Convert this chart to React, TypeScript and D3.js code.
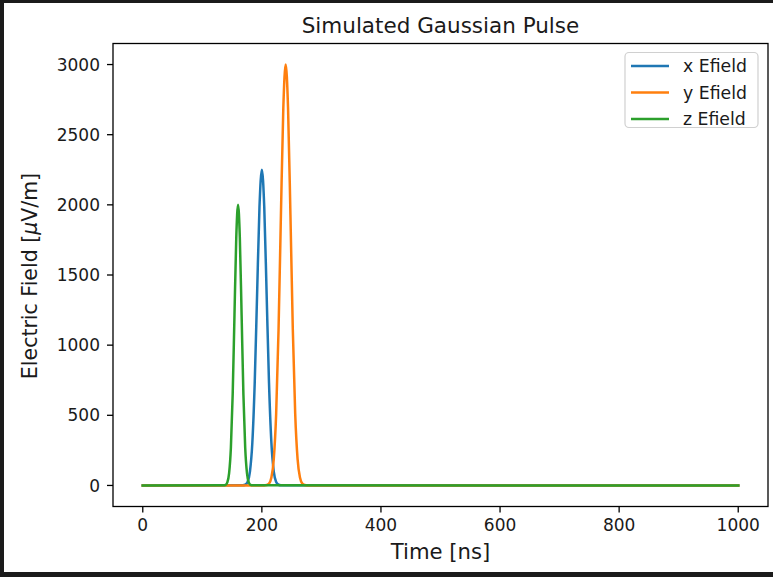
import React from "react";
import * as d3 from "d3";

const xTimes = [0, 168, 172, 176, 180, 184, 188, 192, 196, 200, 204, 208, 212, 216, 220, 224, 228, 232, 1000];
const xValues = [0, 1, 5, 25, 99, 304, 731, 1365, 1986, 2250, 1986, 1365, 731, 304, 99, 25, 5, 1, 0];

const yTimes = [0, 204, 208, 212, 216, 220, 224, 228, 232, 236, 240, 244, 248, 252, 256, 260, 264, 268, 272, 276, 1000];
const yValues = [0, 0, 3, 13, 56, 188, 510, 1108, 1927, 2686, 3000, 2686, 1927, 1108, 510, 188, 56, 13, 3, 0, 0];

const zTimes = [0, 136, 139, 142, 145, 148, 151, 154, 157, 160, 163, 166, 169, 172, 175, 178, 181, 184, 1000];
const zValues = [0, 1, 4, 22, 88, 271, 649, 1213, 1765, 2000, 1765, 1213, 649, 271, 88, 22, 4, 1, 0];

const seriesNames = ["x Efield", "y Efield", "z Efield"];
const seriesColors = ["#1f77b4", "#ff7f0e", "#2ca02c"];
const xTicks = [0, 200, 400, 600, 800, 1000];
const yTicks = [0, 500, 1000, 1500, 2000, 2500, 3000];

const W = 773;
const H = 577;
const M = { left: 113, right: 768, top: 43.5, bottom: 506.5 };
const FONT = "DejaVu Sans, sans-serif";
const TXT = "#1a1a1a";

export default function App() {
  const x = d3.scaleLinear().domain([-50, 1050]).range([M.left, M.right]);
  const y = d3.scaleLinear().domain([-150, 3150]).range([M.bottom, M.top]);
  const line = d3
    .line<[number, number]>()
    .x((d) => x(d[0]))
    .y((d) => y(d[1]))
    .curve(d3.curveMonotoneX);

  const series = [
    { t: xTimes, v: xValues },
    { t: yTimes, v: yValues },
    { t: zTimes, v: zValues },
  ];

  const legendY = [66, 92.5, 119];

  return (
    <svg
      width={W}
      height={H}
      style={{ position: "absolute", left: 0, top: 0 }}
      fontFamily={FONT}
    >
      <rect x={0} y={0} width={W} height={H} fill="#1b1b1b" />
      <rect x={4} y={3} width={W - 4} height={569} fill="#ffffff" />
      <clipPath id="plotclip">
        <rect x={M.left} y={M.top} width={M.right - M.left} height={M.bottom - M.top} />
      </clipPath>
      <g clipPath="url(#plotclip)">
        {series.map((s, i) => (
          <path
            key={i}
            d={line(s.t.map((t, j) => [t, s.v[j]] as [number, number])) || ""}
            fill="none"
            stroke={seriesColors[i]}
            strokeWidth={2.5}
            strokeLinejoin="round"
            strokeLinecap="square"
          />
        ))}
      </g>
      <rect
        x={M.left}
        y={M.top}
        width={M.right - M.left}
        height={M.bottom - M.top}
        fill="none"
        stroke="#000"
        strokeWidth={1.3}
      />
      {xTicks.map((t) => (
        <g key={"xt" + t}>
          <line x1={x(t)} x2={x(t)} y1={M.bottom} y2={M.bottom + 6} stroke="#000" strokeWidth={1.3} />
          <text x={x(t)} y={531} textAnchor="middle" fontSize={17} fill={TXT}>
            {t}
          </text>
        </g>
      ))}
      {yTicks.map((t) => (
        <g key={"yt" + t}>
          <line x1={M.left - 6} x2={M.left} y1={y(t)} y2={y(t)} stroke="#000" strokeWidth={1.3} />
          <text x={100} y={y(t)} dy="0.36em" textAnchor="end" fontSize={17} fill={TXT}>
            {t}
          </text>
        </g>
      ))}
      <text x={(M.left + M.right) / 2} y={559} textAnchor="middle" fontSize={21.2} fill={TXT}>
        Time [ns]
      </text>
      <text
        transform={`translate(37, ${(M.top + M.bottom) / 2 + 1}) rotate(-90)`}
        textAnchor="middle"
        fontSize={20.5}
        fill={TXT}
      >
        Electric Field [<tspan fontStyle="italic">μ</tspan>V/m]
      </text>
      <text x={(M.left + M.right) / 2} y={33} textAnchor="middle" fontSize={21.5} fill={TXT}>
        Simulated Gaussian Pulse
      </text>
      <rect x={625} y={52.5} width={133} height={75} rx={4} fill="#fff" fillOpacity={0.8} stroke="#d0d0d0" strokeWidth={1.2} />
      {seriesNames.map((n, i) => (
        <g key={n}>
          <line x1={631} x2={669} y1={legendY[i]} y2={legendY[i]} stroke={seriesColors[i]} strokeWidth={2.5} />
          <text x={683} y={legendY[i]} dy="0.36em" fontSize={17.3} fill={TXT}>
            {n}
          </text>
        </g>
      ))}
    </svg>
  );
}
